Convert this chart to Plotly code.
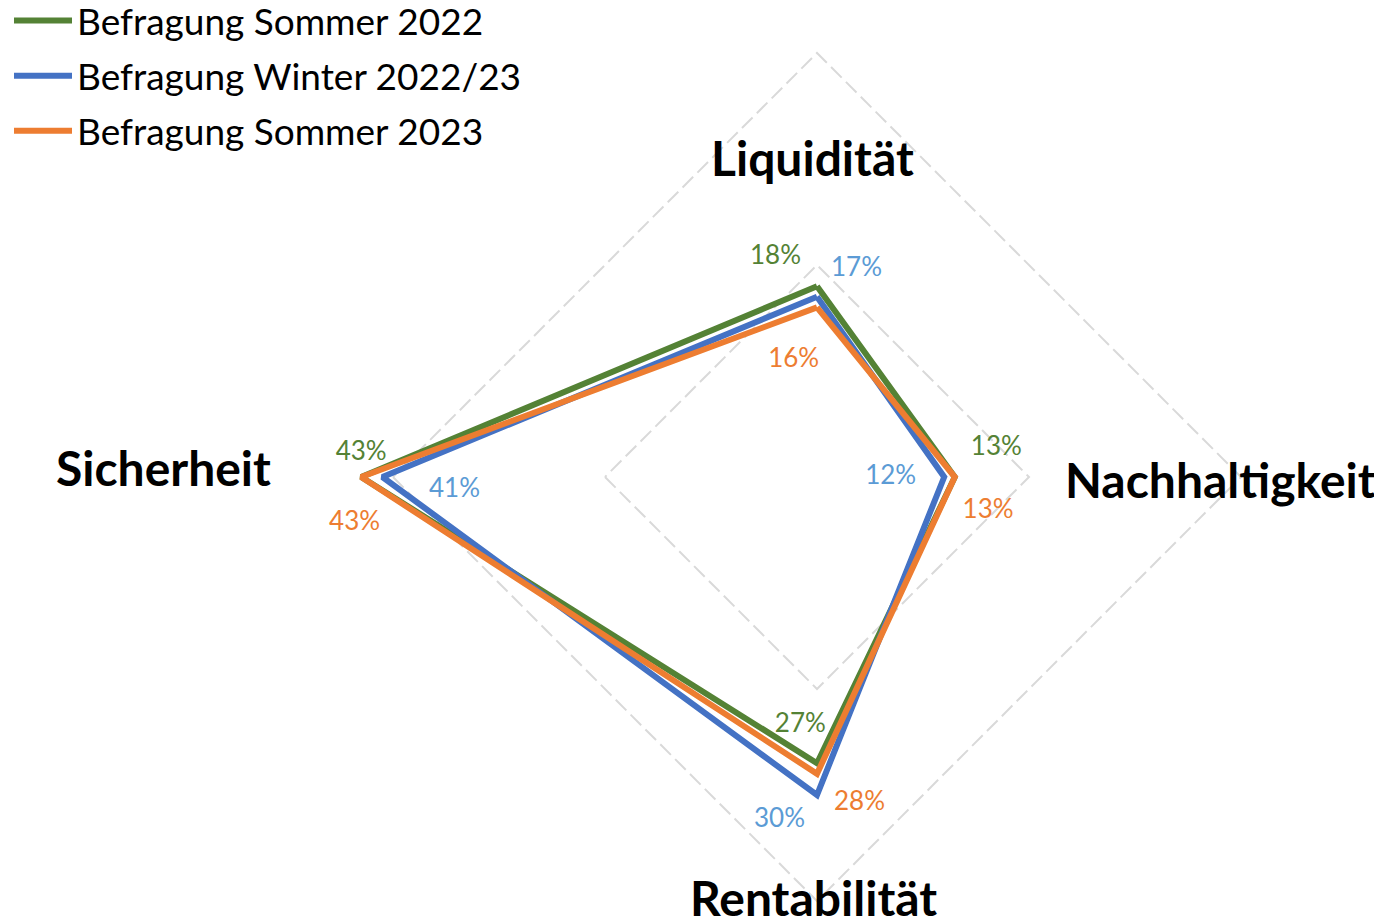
import plotly.graph_objects as go

categories = ["Liquidität", "Nachhaltigkeit", "Rentabilität", "Sicherheit"]
series_names = ["Befragung Sommer 2022", "Befragung Winter 2022/23", "Befragung Sommer 2023"]
sommer_2022 = [18, 13, 27, 43]
winter_2022_23 = [17, 12, 30, 41]
sommer_2023 = [16, 13, 28, 43]

line_colors = ["#548235", "#4472C4", "#ED7D31"]
label_colors = ["#548235", "#5B9BD5", "#ED7D31"]
# label placement relative to each point (style only)
label_positions = [
    ["top left", "top right", "top center", "top center"],
    ["top right", "middle left", "bottom left", "bottom right"],
    ["bottom center", "bottom center", "bottom right", "bottom center"],
]
label_offsets = [
    [16, 16, 25, 11],
    [14, 28, 12, 0],
    [40, 21, 17, 33],
]
# extra horizontal nudge of a label, in non-breaking spaces (negative = left)
label_nudges = [
    [0, 0, -5, 0],
    [0, 0, 0, 7],
    [-7, 10, 0, -2],
]

NBSP = "\u00a0"


def fmt(v, n):
    if n < 0:
        return f"{v}%" + NBSP * (-n)
    return NBSP * n + f"{v}%"


# page body has an 8px margin; work in window pixels and shift
OFF = 8
W, H = 1382 - OFF, 938
FONT = "Lato"


def px_x(x):
    return (x - OFF) / W


def px_y(y):
    return 1 - (y - OFF) / H


fig = go.Figure()
all_values = [sommer_2022, winter_2022_23, sommer_2023]
for name, vals, lc in zip(series_names, all_values, line_colors):
    fig.add_trace(go.Scatterpolar(
        r=vals + vals[:1], theta=categories + categories[:1],
        mode="lines", name=name, legendgroup=name,
        line=dict(color=lc, width=6), cliponaxis=False,
        hoverinfo="skip",
    ))
for vals, tc, pos, offs, nud in zip(all_values, label_colors, label_positions,
                                    label_offsets, label_nudges):
    fig.add_trace(go.Scatterpolar(
        r=vals, theta=categories, mode="markers+text",
        text=[fmt(v, n) for v, n in zip(vals, nud)], textposition=pos,
        textfont=dict(family=FONT, size=26, color=tc),
        marker=dict(size=[max(o - 1, 0) * 1.6 for o in offs], opacity=0),
        showlegend=False, cliponaxis=False, hoverinfo="skip",
    ))

# centre (817, 477) in window pixels, 10.6 px per percentage point
cx, cy, R = 817, 477, 469
k = 10.6
fig.update_layout(
    width=W, height=H,
    margin=dict(l=0, r=0, t=0, b=0, autoexpand=False),
    paper_bgcolor="white", plot_bgcolor="white",
    font=dict(family=FONT, color="black"),
    polar=dict(
        domain=dict(x=[px_x(cx - R), px_x(cx + R)], y=[px_y(cy + R), px_y(cy - R)]),
        bgcolor="white", gridshape="linear",
        radialaxis=dict(range=[0, R / k], tickvals=[20, 40], showticklabels=False,
                        showline=False, ticks="", gridcolor="#D9D9D9", gridwidth=2,
                        griddash="15px,6px"),
        angularaxis=dict(categoryorder="array", categoryarray=categories,
                         rotation=90, direction="clockwise", showgrid=False,
                         showline=False, showticklabels=False, ticks=""),
    ),
    legend=dict(x=px_x(9), y=px_y(-10), xanchor="left", yanchor="top",
                font=dict(family=FONT, size=37, color="black"),
                tracegroupgap=4, itemwidth=58, bgcolor="rgba(0,0,0,0)"),
    showlegend=True,
)

cat_label_pos = {"Liquidität": (812, 157), "Nachhaltigkeit": (1220, 479),
                 "Rentabilität": (813, 897), "Sicherheit": (163, 468)}
for c in categories:
    x, y = cat_label_pos[c]
    fig.add_annotation(x=px_x(x), y=px_y(y), xref="paper", yref="paper",
                       text=f"<b>{c}</b>", showarrow=False,
                       font=dict(family=FONT, size=48, color="black"),
                       xanchor="center", yanchor="middle")

fig.write_html("out.html")
